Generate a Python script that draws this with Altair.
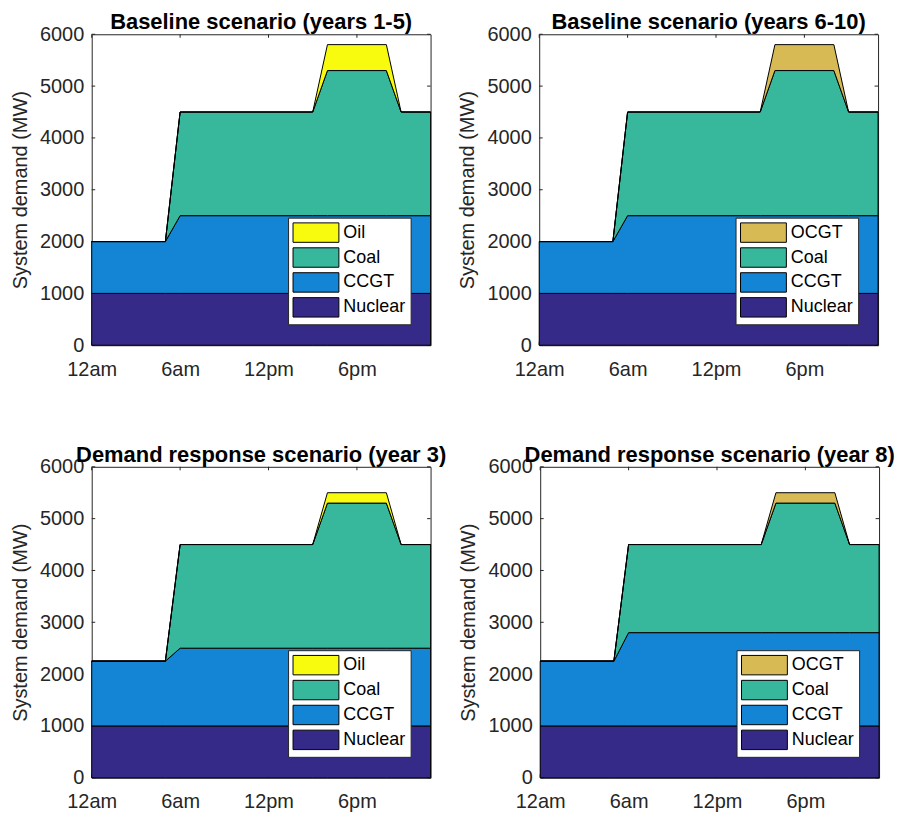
import altair as alt
import pandas as pd

# ---------------- data ----------------
hours = [0, 5, 6, 15, 16, 20, 21, 23]
x_tick_values = [0, 6, 12, 18]
x_tick_labels = ["12am", "6am", "12pm", "6pm"]
y_tick_values = [0, 1000, 2000, 3000, 4000, 5000, 6000]

titles = [
    "Baseline scenario (years 1-5)",
    "Baseline scenario (years 6-10)",
    "Demand response scenario (year 3)",
    "Demand response scenario (year 8)",
]
peak_names = ["Oil", "OCGT", "Oil", "OCGT"]

nuclear_b1 = [1000, 1000, 1000, 1000, 1000, 1000, 1000, 1000]
ccgt_b1 = [1000, 1000, 1500, 1500, 1500, 1500, 1500, 1500]
coal_b1 = [0, 0, 2000, 2000, 2800, 2800, 2000, 2000]
peak_b1 = [0, 0, 0, 0, 500, 500, 0, 0]

nuclear_b2 = [1000, 1000, 1000, 1000, 1000, 1000, 1000, 1000]
ccgt_b2 = [1000, 1000, 1500, 1500, 1500, 1500, 1500, 1500]
coal_b2 = [0, 0, 2000, 2000, 2800, 2800, 2000, 2000]
peak_b2 = [0, 0, 0, 0, 500, 500, 0, 0]

nuclear_d3 = [1000, 1000, 1000, 1000, 1000, 1000, 1000, 1000]
ccgt_d3 = [1250, 1250, 1500, 1500, 1500, 1500, 1500, 1500]
coal_d3 = [0, 0, 2000, 2000, 2800, 2800, 2000, 2000]
peak_d3 = [0, 0, 0, 0, 200, 200, 0, 0]

nuclear_d8 = [1000, 1000, 1000, 1000, 1000, 1000, 1000, 1000]
ccgt_d8 = [1250, 1250, 1800, 1800, 1800, 1800, 1800, 1800]
coal_d8 = [0, 0, 1700, 1700, 2500, 2500, 1700, 1700]
peak_d8 = [0, 0, 0, 0, 200, 200, 0, 0]

# ---------------- style ----------------
FONT = "Liberation Sans"
AX = "#262626"
C_NUC = "#352a87"
C_CCGT = "#1485d4"
C_COAL = "#37b89d"
C_OIL = "#f9fb0e"
C_OCGT = "#d8ba55"
peak_colors = {"Oil": C_OIL, "OCGT": C_OCGT}

W, H = 340, 312
TICK = 3.5

label_expr = " : ".join(
    f"datum.value == {v} ? '{t}'" for v, t in zip(x_tick_values, x_tick_labels)
) + " : ''"

xscale = alt.Scale(domain=[0, 23], nice=False, zero=False)
yscale = alt.Scale(domain=[0, 6000], nice=False)
xaxis = alt.Axis(values=x_tick_values, labelExpr=label_expr, title=None,
                 labelPadding=14, labelFlush=False, labelOverlap=False)
yaxis = alt.Axis(values=y_tick_values, title="System demand (MW)", format="d",
                 labelPadding=8, titlePadding=9, labelFlush=False, labelOverlap=False)

RECT = "M-1,-0.975H3.6V0.975H-1Z"

xt_df = pd.DataFrame({"hour": x_tick_values})
yt_df = pd.DataFrame({"mw": y_tick_values})


def panel(title, nuclear, ccgt, coal, peak, peak_name):
    rows = []
    names = ["Nuclear", "CCGT", "Coal", peak_name]
    for rank, (name, vals) in enumerate(zip(names, [nuclear, ccgt, coal, peak])):
        for h, v in zip(hours, vals):
            rows.append({"hour": h, "mw": v, "source": name, "rank": rank})
    df = pd.DataFrame(rows)

    xb = alt.Chart(xt_df).mark_rule(color=AX, strokeWidth=1).encode(
        x=alt.X("hour:Q", scale=xscale, axis=xaxis),
        y=alt.value(H), y2=alt.value(H - TICK))
    xtp = alt.Chart(xt_df).mark_rule(color=AX, strokeWidth=1).encode(
        x=alt.X("hour:Q", scale=xscale, axis=xaxis),
        y=alt.value(0), y2=alt.value(TICK))
    yl = alt.Chart(yt_df).mark_rule(color=AX, strokeWidth=1).encode(
        y=alt.Y("mw:Q", scale=yscale, axis=yaxis),
        x=alt.value(0), x2=alt.value(TICK))
    yr = alt.Chart(yt_df).mark_rule(color=AX, strokeWidth=1).encode(
        y=alt.Y("mw:Q", scale=yscale, axis=yaxis),
        x=alt.value(W), x2=alt.value(W - TICK))

    area = alt.Chart(df).mark_area(stroke="black", strokeWidth=1, opacity=1,
                                   interpolate="linear").encode(
        x=alt.X("hour:Q", scale=xscale, axis=xaxis),
        y=alt.Y("mw:Q", stack="zero", scale=yscale, axis=yaxis),
        color=alt.Color(
            "source:N",
            scale=alt.Scale(domain=[peak_name, "Coal", "CCGT", "Nuclear"],
                            range=[peak_colors[peak_name], C_COAL, C_CCGT, C_NUC]),
            legend=alt.Legend(
                title=None, orient="none", legendX=197, legendY=184,
                symbolType=RECT, symbolSize=400, symbolStrokeColor="black",
                symbolStrokeWidth=1, symbolOpacity=1,
                labelFont=FONT, labelFontSize=18, labelColor="black",
                labelOffset=30, rowPadding=0, padding=4.5,
                fillColor="white", strokeColor=AX,
            ),
        ),
        order=alt.Order("rank:Q", sort="ascending"),
    )
    return alt.layer(xb, xtp, yl, yr, area).properties(
        width=W, height=H,
        title=alt.TitleParams(title, font=FONT, fontSize=22, fontWeight="bold",
                              color="black", offset=-10),
    )


p1 = panel(titles[0], nuclear_b1, ccgt_b1, coal_b1, peak_b1, peak_names[0])
p2 = panel(titles[1], nuclear_b2, ccgt_b2, coal_b2, peak_b2, peak_names[1])
p3 = panel(titles[2], nuclear_d3, ccgt_d3, coal_d3, peak_d3, peak_names[2])
p4 = panel(titles[3], nuclear_d8, ccgt_d8, coal_d8, peak_d8, peak_names[3])

row1 = alt.hconcat(p1, p2, spacing=24).resolve_scale(color="independent")
row2 = alt.hconcat(p3, p4, spacing=11).resolve_scale(color="independent")

chart = alt.vconcat(row1, row2, spacing=63).resolve_scale(
    color="independent"
).properties(
    padding={"left": 2, "top": 1, "right": 0, "bottom": 0}
).configure_view(
    stroke=AX, strokeWidth=1
).configure_axis(
    domain=False, ticks=False, grid=False,
    labelFont=FONT, labelFontSize=20, labelColor=AX,
    titleFont=FONT, titleFontSize=20, titleColor=AX, titleFontWeight="normal",
)

chart.save("out.html", embed_options={"renderer": "svg", "actions": False})
